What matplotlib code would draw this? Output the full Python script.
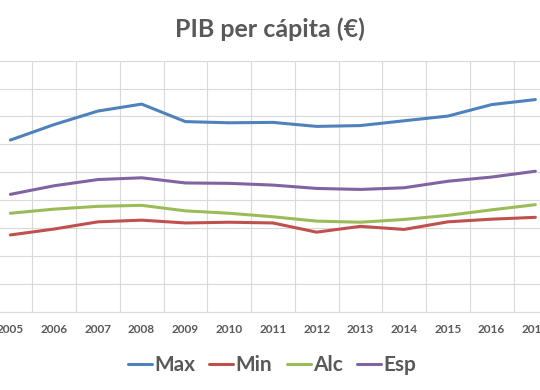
import numpy as np
import matplotlib
matplotlib.use('Agg')
import matplotlib.pyplot as plt

plt.rcParams['font.family'] = ['Lato', 'DejaVu Sans']

# Data
years = [2005, 2006, 2007, 2008, 2009, 2010, 2011, 2012, 2013, 2014, 2015, 2016, 2017]
v_max = [30770, 33550, 35970, 37220, 34080, 33870, 33940, 33220, 33370, 34230, 35070, 37130, 38030]
v_min = [13760, 14820, 16110, 16410, 15910, 16040, 15910, 14260, 15300, 14750, 16110, 16590, 16920]
v_alc = [17650, 18390, 18890, 19070, 18080, 17650, 17020, 16240, 16040, 16540, 17270, 18260, 19190]
v_esp = [21040, 22580, 23690, 24010, 23080, 23010, 22700, 22100, 21920, 22220, 23390, 24140, 25180]

series = [('Max', v_max, '#4F81BD'),
          ('Min', v_min, '#C0504D'),
          ('Alc', v_alc, '#9BBB59'),
          ('Esp', v_esp, '#8064A2')]

grey = '#595959'
gridc = '#D9D9D9'

fig = plt.figure(figsize=(5.4, 3.9), dpi=100)
# plot area runs past the figure edges (cropped screenshot)
ax = fig.add_axes([-11.5 / 540, 78.3 / 390, 612.5 / 540, 251.0 / 390])

x = np.arange(len(years))
for name, vals, col in series:
    ax.plot(x, vals, color=col, lw=2.2, label=name, solid_capstyle='round')

ax.set_xlim(-0.5, 13.5)
ax.set_ylim(0, 45000)
ax.set_yticks(np.arange(0, 45001, 5000))
ax.set_yticklabels([])
ax.set_xticks(x)
ax.set_xticklabels([str(y) for y in years], fontsize=8.5, fontweight='bold', color=grey)
ax.set_xticks(np.arange(-0.5, 14, 1), minor=True)
ax.tick_params(axis='x', which='both', length=0, pad=9)
ax.tick_params(axis='y', length=0)
ax.grid(axis='y', color=gridc, lw=0.8)
ax.grid(axis='x', which='minor', color=gridc, lw=0.8)
ax.grid(axis='x', which='major', visible=False)
for s in ['top', 'left', 'right']:
    ax.spines[s].set_visible(False)
ax.spines['bottom'].set_color(gridc)
ax.set_axisbelow(True)

fig.text(0.5, 1 - 29 / 390, 'PIB per cápita (€)', ha='center', va='center',
         fontsize=18, fontweight='bold', color=grey)

leg = fig.legend(loc='center', bbox_to_anchor=(272 / 540, 1 - 365 / 390), ncol=4,
                 frameon=False, handlelength=1.15, handletextpad=0.1,
                 columnspacing=0.7, prop={'size': 15, 'weight': 'bold'})
for t in leg.get_texts():
    t.set_color(grey)

fig.savefig('out.png', dpi=100)
